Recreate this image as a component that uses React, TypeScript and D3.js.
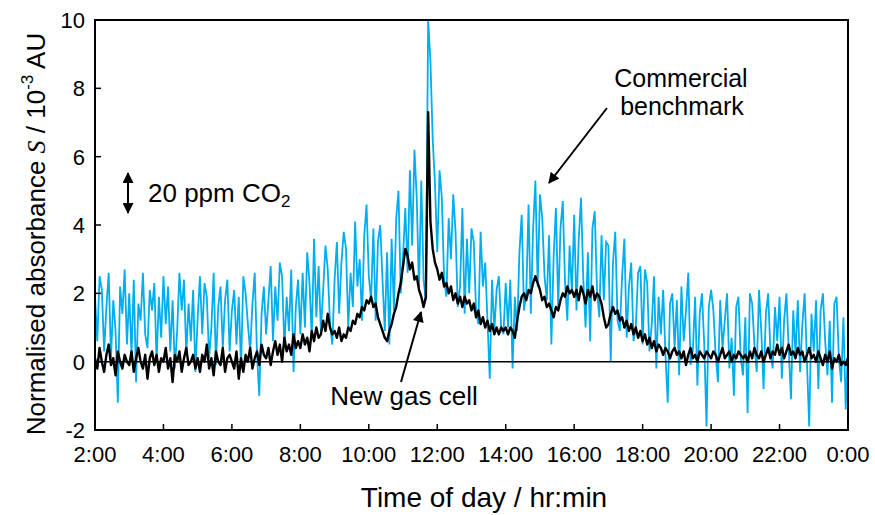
import React from "react";
import * as d3 from "d3";

// sampling: one reading every 4 minutes from 2:00 to 0:00 (next day)
const startHour = 2;
const stepMinutes = 4;

// Commercial benchmark (blue), 15 readings per hour
const benchmark: number[] = [
  1.9, 0.6, 2.5, 2.1, 0.3, 1.6, 2.6, 0.1, 1.8, 0.9, -1.2, 2.2, 1.4, 2.7, 0.5,
  2.0, 0.2, 2.4, -0.6, 1.7, 1.2, 2.6, 0.8, 0.4, 2.1, 1.5, 2.3, 0.0, 1.9, 0.7,
  2.5, 1.1, 2.2, 0.3, 1.8, -0.2, 0.9, 2.6, 1.5, 2.4, 0.2, 1.7, 0.6, 2.1, -0.3,
  1.3, 2.5, 0.8, 2.3, 1.9, 0.1, 1.0, 2.6, -0.1, 1.6, 2.2, 0.4, 1.8, 2.4, 0.3,
  1.5, 2.1, 0.5, 1.9, -0.2, 2.5, 2.0, 1.1, 0.3, 1.7, 2.6, 0.2, -1.0, 1.4, 2.2,
  0.8, 1.8, 2.8, 0.6, 2.2, 1.2, 2.9, 2.5, 0.4, 1.9, 0.9, 2.7, -0.3, 1.6, 2.4,
  0.8, 2.6, 1.0, 3.2, 2.3, 0.7, 3.6, 1.3, 2.8, 0.9, 2.1, 3.4, 2.7, 1.1, 0.5,
  2.4, 3.5, 1.4, 2.9, 3.8, 3.3, 1.0, 2.6, 1.6, 4.1, 2.2, 3.0, 1.2, 3.7, 4.6,
  2.5, 1.8, 3.9, 1.2, 3.5, 4.0, 2.4, 0.9, 3.2, 0.5, 3.6, 1.5, 4.2, 5.0, 2.0,
  3.1, 4.5, 2.6, 5.6, 3.4, 6.2, 4.8, 2.1, 5.3, 2.4, 1.8, 10.0, 8.8, 6.5, 5.2,
  3.2, 5.6, 4.8, 2.4, 1.9, 4.2, 3.0, 4.9, 3.8, 1.6, 2.2, 4.5, 1.4, 3.6, 2.0,
  3.9, 3.5, 1.5, 1.1, 3.8, 2.2, 2.9, 1.2, -0.5, 2.4, 0.9, 2.1, 2.5, 1.0, 0.8,
  2.3, 1.0, 2.4, -0.2, 1.9, 0.9, 3.2, 4.3, 1.5, 2.0, 4.6, 1.4, 3.9, 5.3, 2.2,
  4.9, 4.2, 2.5, 1.8, 3.7, 0.5, 3.1, 4.5, 1.6, 3.9, 4.7, 2.3, 1.2, 3.4, 2.0,
  4.3, 1.5, 3.6, 4.8, 2.4, 1.0, 3.2, 0.6, 3.9, 4.4, 2.1, 1.3, 3.7, 1.8, 3.5,
  3.4, 0.0, 2.9, 3.8, 1.2, 0.9, 2.5, 3.6, 0.7, 2.2, 2.9, 0.6, 1.0, 2.6, 2.8,
  0.5, 2.7, 2.3, 0.3, 1.1, 2.5, -0.2, 1.9, 0.8, 2.1, 0.2, -1.2, 1.7, 2.0, 0.4,
  1.8, -0.4, 2.2, 0.6, 1.5, 2.6, -0.1, 0.3, 1.9, -0.7, 1.4, 2.0, 0.5, -1.9, 1.6,
  2.1, 1.5, 0.2, -0.6, 1.8, 0.4, 1.2, 2.0, -0.2, 0.7, -1.0, 1.6, 1.9, 0.1, -0.4,
  1.3, -1.5, 2.0, 1.7, 0.5, -0.3, 2.1, 0.9, -0.8, 1.4, 2.0, 0.3, -0.2, 1.6, 0.6,
  1.9, -0.5, 1.2, 2.0, 0.4, -1.1, 1.5, 0.2, 1.8, -0.3, 1.1, 2.0, 0.0, -1.9, 1.4,
  0.3, 1.8, -0.8, 1.5, 2.0, 0.6, -0.4, 1.2, -1.2, 1.7, 1.9, 0.1, -0.6, 1.3, -1.4,
  0.4,
];

// New gas cell (black), 15 readings per hour
const newCell: number[] = [
  0.1, -0.2, 0.4, 0.0, -0.3, 0.2, 0.5, -0.1, 0.1, -0.4, 0.3, 0.0, -0.2, 0.2, 0.0,
  -0.1, 0.3, -0.3, 0.1, 0.4, 0.0, -0.2, 0.2, -0.5, 0.1, 0.3, -0.1, 0.2, -0.3, 0.1,
  0.0, 0.4, -0.2, 0.1, -0.6, 0.2, 0.0, 0.3, -0.3, 0.1, 0.4, -0.1, 0.0, 0.2, -0.2,
  0.1, -0.3, 0.2, 0.0, 0.5, -0.2, 0.1, -0.4, 0.3, 0.0, -0.1, 0.4, -0.3, 0.1, 0.2,
  0.0, -0.2, 0.3, -0.5, 0.1, -0.3, 0.2, 0.0, 0.4, -0.2, 0.1, 0.3, -0.1, 0.5, 0.2,
  0.1, 0.4, -0.1, 0.3, 0.6, 0.2, 0.5, 0.0, 0.7, 0.3, 0.5, 0.2, 0.8, 0.4, 0.6,
  0.4, 0.8, 0.5, 0.7, 0.3, 0.9, 0.6, 1.0, 0.7, 0.8, 1.2, 0.9, 1.4, 1.0, 0.8,
  0.9, 0.7, 1.0, 0.6, 0.8, 0.7, 1.0, 0.9, 1.2, 1.1, 1.4, 1.3, 1.6, 1.5, 1.8,
  1.7, 1.9, 1.6, 1.7, 1.3, 1.1, 0.9, 0.7, 0.6, 0.9, 1.1, 1.4, 1.6, 2.0, 2.3,
  2.8, 3.3, 3.1, 2.7, 2.9, 2.4, 2.5, 2.1, 1.9, 1.6, 1.9, 7.3, 4.1, 3.3, 2.9,
  2.7, 2.4, 2.6, 2.2, 2.3, 2.0, 2.2, 1.8, 2.0, 1.7, 1.9, 1.6, 1.9, 1.7, 1.8,
  1.5, 1.7, 1.3, 1.5, 1.1, 1.3, 1.0, 1.2, 0.9, 1.1, 0.8, 1.0, 0.8, 1.0, 0.9,
  1.0, 0.8, 1.0, 0.9, 0.7, 1.2, 1.6, 1.9, 2.0, 1.8, 2.1, 2.0, 2.3, 2.5, 2.3,
  2.1, 1.8, 1.9, 1.6, 1.7, 1.5, 1.3, 1.6, 1.5, 1.8, 2.0, 1.9, 2.2, 2.0, 2.1,
  1.9, 2.1, 1.8, 2.2, 2.0, 1.7, 2.1, 1.9, 2.2, 1.8, 2.0, 1.9, 1.7, 1.3, 1.0,
  1.1, 1.4, 1.6, 1.4, 1.5, 1.2, 1.3, 1.0, 1.2, 0.9, 1.1, 0.8, 1.0, 0.7, 0.9,
  0.6, 0.8, 0.5, 0.7, 0.4, 0.6, 0.3, 0.5, 0.4, 0.2, 0.4, 0.3, 0.1, 0.3, 0.4,
  0.2, 0.3, 0.1, 0.3, -0.1, 0.2, 0.4, 0.1, 0.2, 0.0, 0.3, 0.2, 0.1, 0.3, 0.2,
  0.1, 0.3, 0.2, 0.0, 0.2, 0.4, 0.1, 0.2, 0.3, 0.0, 0.2, 0.1, 0.3, 0.2, 0.1,
  0.2, 0.0, 0.3, 0.1, 0.4, 0.2, 0.1, 0.3, 0.0, 0.2, 0.4, 0.1, 0.3, 0.2, 0.5,
  0.2, 0.4, 0.1, 0.3, 0.5, 0.2, 0.3, 0.1, 0.4, 0.2, 0.3, 0.0, 0.2, 0.4, 0.1,
  0.2, 0.0, 0.3, 0.1, -0.1, 0.2, 0.0, 0.3, -0.2, 0.1, 0.0, 0.2, -0.1, 0.0, -0.1,
  0.1,
];

const xTicks = [2, 4, 6, 8, 10, 12, 14, 16, 18, 20, 22, 24];
const yTicks = [-2, 0, 2, 4, 6, 8, 10];

const W = 875;
const H = 515;
const M = { left: 95, right: 848, top: 20, bottom: 430 };
const FONT = "'Liberation Sans', Arial, Helvetica, sans-serif";
const BLUE = "#00aeef";

export default function App() {
  const x = d3.scaleLinear().domain([2, 24]).range([M.left, M.right]);
  const y = d3.scaleLinear().domain([-2, 10]).range([M.bottom, M.top]);
  const tOf = (i: number) => startHour + (i * stepMinutes) / 60;

  const line = d3
    .line<number>()
    .x((_, i) => x(tOf(i)))
    .y((d) => y(d));

  const fmt = (h: number) => `${h % 24}:00`;

  return (
    <svg
      width={W}
      height={H}
      style={{ position: "absolute", left: 0, top: 0, background: "#fff" }}
      fontFamily={FONT}
    >
      <defs>
        <clipPath id="plot">
          <rect x={M.left} y={M.top} width={M.right - M.left} height={M.bottom - M.top} />
        </clipPath>
        <marker id="ah" viewBox="0 0 10 10" refX="9" refY="5" markerWidth="12" markerHeight="11" markerUnits="userSpaceOnUse" orient="auto">
          <path d="M0,0 L10,5 L0,10 z" fill="#000" />
        </marker>
      </defs>

      <g clipPath="url(#plot)">
        <path d={line(benchmark) || ""} fill="none" stroke={BLUE} strokeWidth={1.8} strokeLinejoin="miter" />
        <line x1={M.left} x2={M.right} y1={y(0)} y2={y(0)} stroke="#000" strokeWidth={1.5} />
        <path d={line(newCell) || ""} fill="none" stroke="#000" strokeWidth={2.4} strokeLinejoin="round" />
      </g>

      {/* ticks */}
      {xTicks.slice(1, -1).map((t) => (
        <line key={"xt" + t} x1={x(t)} x2={x(t)} y1={M.bottom} y2={M.bottom - 6} stroke="#000" strokeWidth={1.5} />
      ))}
      {yTicks.slice(1, -1).map((v) => (
        <line key={"yt" + v} x1={M.left} x2={M.left + 6} y1={y(v)} y2={y(v)} stroke="#000" strokeWidth={1.5} />
      ))}

      {/* frame */}
      <rect x={M.left} y={M.top} width={M.right - M.left} height={M.bottom - M.top} fill="none" stroke="#000" strokeWidth={2} />

      {/* tick labels */}
      {xTicks.map((t) => (
        <text key={"xl" + t} x={x(t)} y={462} textAnchor="middle" fontSize={22}>
          {fmt(t)}
        </text>
      ))}
      {yTicks.map((v) => (
        <text key={"yl" + v} x={85} y={y(v) + 8} textAnchor="end" fontSize={22}>
          {v}
        </text>
      ))}

      {/* axis titles */}
      <text x={484} y={507} textAnchor="middle" fontSize={28}>
        Time of day / hr:min
      </text>
      <text transform="translate(45,234) rotate(-90)" textAnchor="middle" fontSize={26}>
        Normalised absorbance{" "}
        <tspan fontFamily="'Liberation Serif', 'Times New Roman', serif" fontStyle="italic">S</tspan>
        {" / 10"}
        <tspan fontSize={17} dy={-12}>-3</tspan>
        <tspan dy={12}>{"  AU"}</tspan>
      </text>

      {/* 20 ppm CO2 scale marker */}
      <line x1={128} x2={128} y1={193} y2={173} stroke="#000" strokeWidth={2} markerEnd="url(#ah)" />
      <line x1={128} x2={128} y1={193} y2={213} stroke="#000" strokeWidth={2} markerEnd="url(#ah)" />
      <text x={148} y={202} fontSize={26}>
        20 ppm CO<tspan fontSize={17} dy={5}>2</tspan>
      </text>

      {/* annotations */}
      <text x={681} y={87} textAnchor="middle" fontSize={25}>Commercial</text>
      <text x={682} y={115} textAnchor="middle" fontSize={25}>benchmark</text>
      <line x1={607} y1={108} x2={549} y2={183} stroke="#000" strokeWidth={2} markerEnd="url(#ah)" />

      <text x={404} y={405} textAnchor="middle" fontSize={26}>New gas cell</text>
      <line x1={401} y1={382} x2={421} y2={312} stroke="#000" strokeWidth={2} markerEnd="url(#ah)" />
    </svg>
  );
}
